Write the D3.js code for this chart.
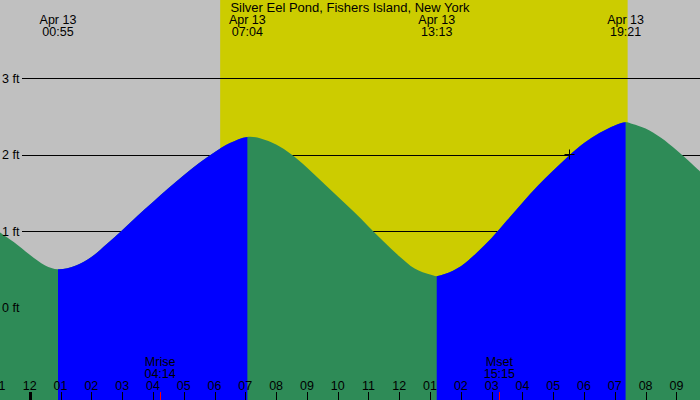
<!DOCTYPE html>
<head>
  <meta charset="utf-8">
  <script src="https://d3js.org/d3.v7.min.js"></script>
  <style>
    body {
      font-family: "Liberation Sans", Arial, sans-serif;
      margin: 0;
    }
  </style>
</head>

<body>
<div id="vis"></div>

<script>
// tide curve (date, local time -> feet)
const tideTimes = [
  "04-12 23:02", "04-12 23:30", "04-13 00:00", "04-13 00:30", "04-13 00:55",
  "04-13 01:30", "04-13 02:00", "04-13 02:30", "04-13 03:00", "04-13 03:30",
  "04-13 04:00", "04-13 04:30", "04-13 05:00", "04-13 05:30", "04-13 06:00",
  "04-13 06:30", "04-13 07:04", "04-13 07:30", "04-13 08:00", "04-13 08:30",
  "04-13 09:00", "04-13 09:30", "04-13 10:00", "04-13 10:30", "04-13 11:00",
  "04-13 11:30", "04-13 12:00", "04-13 12:30", "04-13 13:00", "04-13 13:13",
  "04-13 13:30", "04-13 14:00", "04-13 14:30", "04-13 15:00", "04-13 15:30",
  "04-13 16:00", "04-13 16:30", "04-13 17:00", "04-13 17:30", "04-13 18:00",
  "04-13 18:30", "04-13 19:00", "04-13 19:21", "04-13 19:30", "04-13 20:00",
  "04-13 20:30", "04-13 21:00", "04-13 21:30", "04-13 21:46"
];
const tideHeights = [
  0.98, 0.85, 0.69, 0.55, 0.50,
  0.55, 0.66, 0.83, 1.01, 1.20,
  1.38, 1.56, 1.73, 1.89, 2.03,
  2.15, 2.23, 2.21, 2.13, 2.00,
  1.83, 1.64, 1.45, 1.26, 1.06,
  0.86, 0.67, 0.51, 0.43, 0.41,
  0.44, 0.54, 0.71, 0.91, 1.14,
  1.37, 1.59, 1.79, 1.98, 2.15,
  2.28, 2.38, 2.42, 2.41, 2.34,
  2.22, 2.06, 1.88, 1.78
];

// highs and lows
const extremeTimes = ["04-13 00:55", "04-13 07:04", "04-13 13:13", "04-13 19:21"];
const extremeLabels = ["00:55", "07:04", "13:13", "19:21"];
const extremeDay = "Apr 13";

const sunrise = "04-13 06:11";
const sunset = "04-13 19:25";

const moonNames = ["Mrise", "Mset"];
const moonTimes = ["04-13 04:14", "04-13 15:15"];
const moonLabels = ["04:14", "15:15"];

const nowTime = "04-13 17:31";
const nowHeight = 2.00;

const depthTicks = [0, 1, 2, 3];
const title = "Silver Eel Pond, Fishers Island, New York";

const width = 700;
const height = 400;

const parse = d3.timeParse("%m-%d %H:%M");

const x = d3.scaleTime()
  .domain([parse("04-12 23:02"), parse("04-13 21:46")])
  .range([0, width]);

const y = d3.scaleLinear()
  .domain([0, 3])
  .range([307.5, 78]);

const tide = tideTimes.map((t, i) => ({ date: parse(t), h: tideHeights[i] }));
const ext = extremeTimes.map(parse);

const svg = d3.select('#vis')
  .append('svg')
  .attr('width', width)
  .attr('height', height)
  .style('display', 'block');

svg.append('rect')
  .attr('width', width)
  .attr('height', height)
  .attr('fill', '#c0c0c0');

svg.append('rect')
  .attr('x', x(parse(sunrise)))
  .attr('width', x(parse(sunset)) - x(parse(sunrise)))
  .attr('height', height)
  .attr('fill', '#cccc00');

// feet lines sit behind the water
svg.selectAll('.grid')
  .data(depthTicks)
  .enter()
  .append('line')
  .attr('x1', 22)
  .attr('x2', width)
  .attr('y1', d => Math.round(y(d)) + 0.5)
  .attr('y2', d => Math.round(y(d)) + 0.5)
  .attr('stroke', '#000')
  .attr('stroke-width', 1);

const area = d3.area()
  .x(d => x(d.date))
  .y0(height)
  .y1(d => y(d.h))
  .curve(d3.curveCatmullRom.alpha(0.5));

// rising tide between a low and the next high is blue
const defs = svg.append('defs');
const clip = defs.append('clipPath').attr('id', 'rising');
for (let i = 0; i < ext.length - 1; i += 2) {
  clip.append('rect')
    .attr('x', x(ext[i]))
    .attr('width', x(ext[i + 1]) - x(ext[i]))
    .attr('y', 0)
    .attr('height', height);
}

svg.append('path')
  .datum(tide)
  .attr('d', area)
  .attr('fill', '#2e8b57');

svg.append('path')
  .datum(tide)
  .attr('d', area)
  .attr('fill', '#0000ff')
  .attr('clip-path', 'url(#rising)');

svg.selectAll('.ylab')
  .data(depthTicks)
  .enter()
  .append('text')
  .attr('x', 2)
  .attr('y', d => y(d) + 4.5)
  .style('font-size', '12.5px')
  .text(d => d + ' ft');

// hour axis along the bottom
const hours = d3.timeHour.range(parse("04-12 23:00"), parse("04-13 22:00"));

svg.selectAll('.tick')
  .data(hours)
  .enter()
  .append('line')
  .attr('x1', d => Math.round(x(d)) + 0.5)
  .attr('x2', d => Math.round(x(d)) + 0.5)
  .attr('y1', 392)
  .attr('y2', height)
  .attr('stroke', '#000')
  .attr('stroke-width', d => d.getHours() === 0 ? 3 : 1);

svg.selectAll('.hlab')
  .data(hours)
  .enter()
  .append('text')
  .attr('x', d => x(d))
  .attr('y', 389.5)
  .style('text-anchor', 'middle')
  .style('font-size', '12.5px')
  .text(d3.timeFormat("%I"));

moonTimes.forEach((t, i) => {
  const mx = x(parse(t));
  svg.append('line')
    .attr('x1', Math.round(mx) + 0.5)
    .attr('x2', Math.round(mx) + 0.5)
    .attr('y1', 392)
    .attr('y2', height)
    .attr('stroke', '#ff0000');
  svg.append('text')
    .attr('x', mx)
    .attr('y', 366)
    .style('text-anchor', 'middle')
    .style('font-size', '12.5px')
    .text(moonNames[i]);
  svg.append('text')
    .attr('x', mx)
    .attr('y', 377.5)
    .style('text-anchor', 'middle')
    .style('font-size', '12.5px')
    .text(moonLabels[i]);
});

// high / low times across the top
ext.forEach((d, i) => {
  svg.append('text')
    .attr('x', x(d))
    .attr('y', 24)
    .style('text-anchor', 'middle')
    .style('font-size', '12.5px')
    .text(extremeDay);
  svg.append('text')
    .attr('x', x(d))
    .attr('y', 35.5)
    .style('text-anchor', 'middle')
    .style('font-size', '12.5px')
    .text(extremeLabels[i]);
});

svg.append('text')
  .attr('x', width / 2)
  .attr('y', 12)
  .style('text-anchor', 'middle')
  .style('font-size', '13px')
  .text(title);

// small cross marking the current time
const nx = Math.round(x(parse(nowTime))) + 0.5;
const ny = Math.round(y(nowHeight)) - 0.5;
svg.append('path')
  .attr('d', `M${nx - 5},${ny}H${nx + 5}M${nx},${ny - 5}V${ny + 5}`)
  .attr('stroke', '#000')
  .attr('fill', 'none');
</script>
</body>
